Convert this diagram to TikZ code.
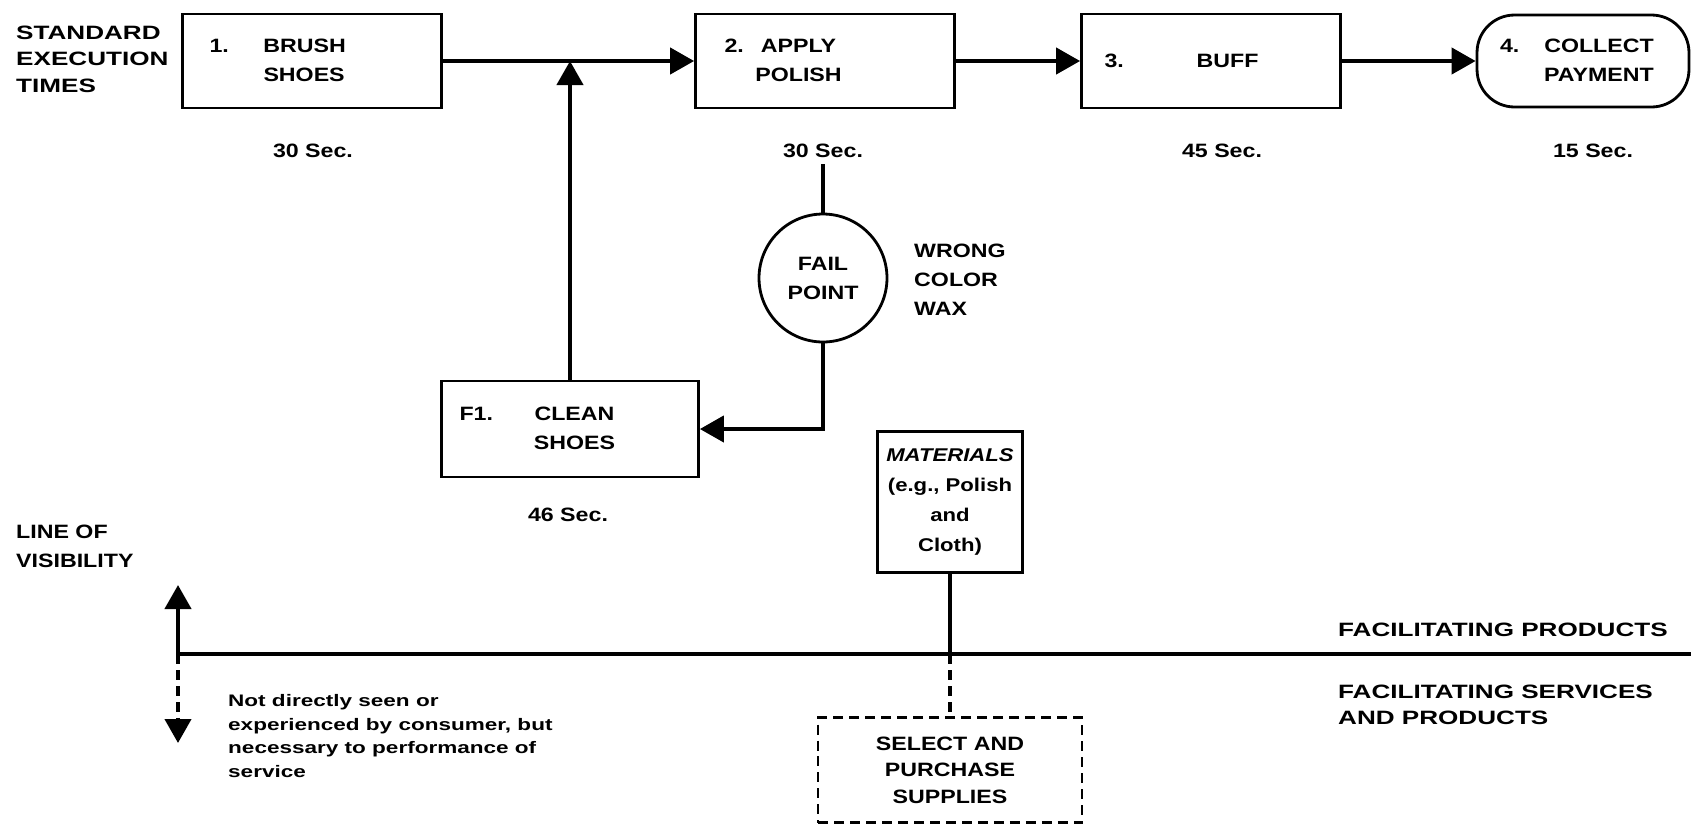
\documentclass[tikz,border=0pt]{standalone}
\usepackage{fontspec}
\newfontfamily\bpfont[FakeStretch=1.2]{Liberation Sans}
\newfontfamily\bpwide[FakeStretch=1.35]{Liberation Sans}
\usetikzlibrary{arrows.meta, positioning}
\newcommand\bplarge{\bpfont\bfseries\fontsize{11}{16.5}\selectfont}
\newcommand\bpside{\bpwide\bfseries\fontsize{11}{15}\selectfont}
\newcommand\bpsmall{\bpwide\bfseries\fontsize{9.5}{13.6}\selectfont}
\newcommand\bpmat{\bpfont\bfseries\fontsize{10.5}{17}\selectfont}
\tikzset{
  stepbox/.style={rectangle, draw, line width=1.6pt, minimum width=5.18cm,
                  minimum height=1.88cm, inner sep=0pt, font=\bplarge},
  paybox/.style={stepbox, rounded corners=0.75cm, minimum width=4.24cm,
                 minimum height=1.84cm},
  failpt/.style={circle, draw, line width=1.6pt, minimum size=2.56cm,
                 inner sep=0pt, align=center, font=\bplarge},
  matbox/.style={rectangle, draw, line width=1.6pt, minimum width=2.9cm,
                 minimum height=2.82cm, inner sep=0pt, align=center, font=\bpmat},
  supbox/.style={matbox, dash pattern=on 0.2cm off 0.12cm, minimum width=5.28cm,
                 minimum height=2.1cm, font=\bpfont\bfseries\fontsize{11}{15}\selectfont},
  timelbl/.style={font=\bplarge},
  sidelbl/.style={font=\bplarge, align=left, anchor=west},
  flow/.style={-{Triangle[length=0.48cm, width=0.52cm]}, line width=2.4pt},
  link/.style={line width=2.4pt},
}

\begin{document}
\begin{tikzpicture}[x=0.02cm, y=-0.02cm]
  \useasboundingbox (0,0) rectangle (1691,826);

  % visible steps
  \node[sidelbl, font=\bpside] (std) at (10,59) {STANDARD\\EXECUTION\\TIMES};
  \node[stepbox] (b1) at (312,61) {\makebox[5.18cm][l]{\hspace{0.54cm}%
    \begin{tabular}{@{}l@{}l@{}}\makebox[1.08cm][l]{1.} & BRUSH\\ & SHOES\end{tabular}}};
  \node[stepbox] (b2) at (825,61) {\makebox[5.18cm][l]{\hspace{0.58cm}%
    \begin{tabular}{@{}l@{}l@{}}\makebox[0.48cm][l]{2.} & \makebox[2cm]{APPLY}\\
      & \makebox[2cm]{POLISH}\end{tabular}}};
  \node[stepbox] (b3) at (1211,61) {\makebox[5.18cm][l]{\hspace{0.46cm}%
    \makebox[1.46cm][l]{3.}\makebox[2cm]{BUFF}}};
  \node[paybox] (pay) at (1583,61) {\makebox[4.24cm][l]{\hspace{0.46cm}%
    \begin{tabular}{@{}l@{}l@{}}\makebox[0.58cm][l]{4.} & \makebox[2.8cm]{COLLECT}\\
      & \makebox[2.8cm]{PAYMENT}\end{tabular}}};
  \draw[flow] (b1) -- (b2);
  \draw[flow] (b2) -- (b3);
  \draw[flow] (b3) -- (pay);

  \node[timelbl] (t1) at (313,151) {30 Sec.};
  \node[timelbl] (t2) at (823,151) {30 Sec.};
  \node[timelbl] (t3) at (1222,151) {45 Sec.};
  \node[timelbl] (t4) at (1593,151) {15 Sec.};

  % fail point and recovery
  \node[failpt] (fail) at (823,278) {FAIL\\POINT};
  \node[sidelbl] (wax) at (908,280) {WRONG\\COLOR\\WAX};
  \node[stepbox, minimum width=5.14cm, minimum height=1.92cm] (f1) at (570,429)
    {\makebox[5.14cm][l]{\hspace{0.36cm}%
    \begin{tabular}{@{}l@{}l@{}}\makebox[1.3cm][l]{F1.} & \makebox[2cm]{CLEAN}\\
      & \makebox[2cm]{SHOES}\end{tabular}}};
  \node[timelbl] (t5) at (568,515) {46 Sec.};
  \draw[link] (t2) -- (fail);
  \draw[flow] (fail) |- (f1);
  \draw[flow] (f1) -- (f1 |- b1);

  % line of visibility
  \coordinate (vl) at (178,654);
  \coordinate (vr) at (1691,654);
  \coordinate (vup) at (178,585);
  \coordinate (vdn) at (178,743);
  \draw[line width=1.8pt] (vl) -- (vr);
  \draw[flow] (vl) -- (vup);
  \draw[flow, dash pattern=on 0.2cm off 0.12cm] (vl) -- (vdn);
  \node[sidelbl] (los) at (10,546) {LINE OF\\VISIBILITY};
  \node[sidelbl, font=\bpsmall] (note) at (222,736)
    {Not directly seen or\\experienced by consumer, but\\necessary to performance of\\service};
  \node[sidelbl, font=\bpside] (fprod) at (1332,630) {FACILITATING PRODUCTS};
  \node[sidelbl, font=\bpside] (fserv) at (1332,705) {FACILITATING SERVICES\\AND PRODUCTS};

  % support
  \node[matbox] (mat) at (950,502) {{\itshape MATERIALS}\\(e.g., Polish\\and\\Cloth)};
  \node[supbox] (sel) at (950,770) {SELECT AND\\PURCHASE\\SUPPLIES};
  \draw[line width=1.8pt] (mat) -- (mat |- vl);
  \draw[line width=1.8pt, dash pattern=on 0.2cm off 0.12cm] (mat |- vl) -- (sel);
\end{tikzpicture}
\end{document}
